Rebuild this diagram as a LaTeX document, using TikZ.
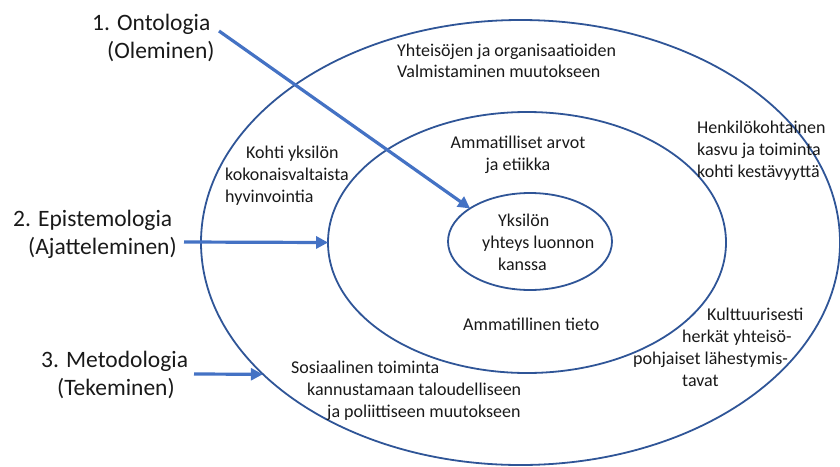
\documentclass[tikz,border=0pt]{standalone}
\usepackage{fontspec}
\setmainfont{Carlito}
\usetikzlibrary{shapes.geometric,arrows.meta}
\definecolor{ringblue}{HTML}{2F5597}
\definecolor{arrowblue}{HTML}{4472C4}
\tikzset{
  ring/.style={ellipse, draw=ringblue, line width=1.8pt, inner sep=0pt},
  lbl/.style={font=\fontsize{23.5}{27.5}\selectfont, align=left, inner sep=0pt, anchor=base west, text=black!90},
  txt/.style={font=\fontsize{18}{22}\selectfont, align=left, inner sep=0pt, anchor=base west, text=black!90},
  link/.style={draw=arrowblue, line width=3.2pt, -{Triangle[length=12pt,width=12pt]}, shorten >=-1pt},
}
\begin{document}
\begin{tikzpicture}[x=1pt,y=-1pt]
\useasboundingbox (0,0) rectangle (840,466);
% rings
\node[ring, minimum width=639pt, minimum height=445pt] (outer) at (520.5,242.5) {};
\node[ring, minimum width=398pt, minimum height=261pt] (middle) at (527,242.5) {};
\node[ring, minimum width=164pt, minimum height=97pt] (inner) at (530,241.5) {};
% left labels (anchored at the baseline of the last line)
\node[lbl] (l1) at (92,58) {1. Ontologia\\\hspace*{15pt}(Oleminen)};
\node[lbl] (l2) at (13,254) {2. Epistemologia\\\hspace*{15pt}(Ajatteleminen)};
\node[lbl] (l3) at (41,395) {3. Metodologia\\\hspace*{16pt}(Tekeminen)};
% ring texts
\node[txt, font=\fontsize{18}{20.5}\selectfont] (t1) at (397,77) {Yhteisöjen ja organisaatioiden\\Valmistaminen muutokseen};
\node[txt] (t2) at (225,202) {\hspace*{21pt}Kohti yksilön\\kokonaisvaltaista\\hyvinvointia};
\node[txt, align=center, anchor=base] (t3) at (518,170) {Ammatilliset arvot\\ja etiikka};
\node[txt] (t4) at (697,177) {Henkilökohtainen\\kasvu ja toiminta\\kohti kestävyyttä};
\node[txt] (t5) at (482,270) {\hspace*{16pt}Yksilön\\yhteys luonnon\\\hspace*{16pt}kanssa};
\node[txt] (t6) at (463,330) {Ammatillinen tieto};
\node[txt] (t7) at (633,386) {\hspace*{74pt}Kulttuurisesti\\\hspace*{49pt}herkät yhteisö-\\pohjaiset lähestymis-\\\hspace*{49pt}tavat};
\node[txt] (t8) at (291,417) {Sosiaalinen toiminta\\\hspace*{16pt}kannustamaan taloudelliseen\\\hspace*{36pt}ja poliittiseen muutokseen};
% arrows
\coordinate (s1) at (219,31);
\coordinate (s2) at (184,242);
\coordinate (s3) at (194,374);
\draw[link] (s1) -- (inner.151);
\draw[link] (s2) -- (middle.west);
\draw[link] (s3) -- (outer.207);
\end{tikzpicture}
\end{document}
